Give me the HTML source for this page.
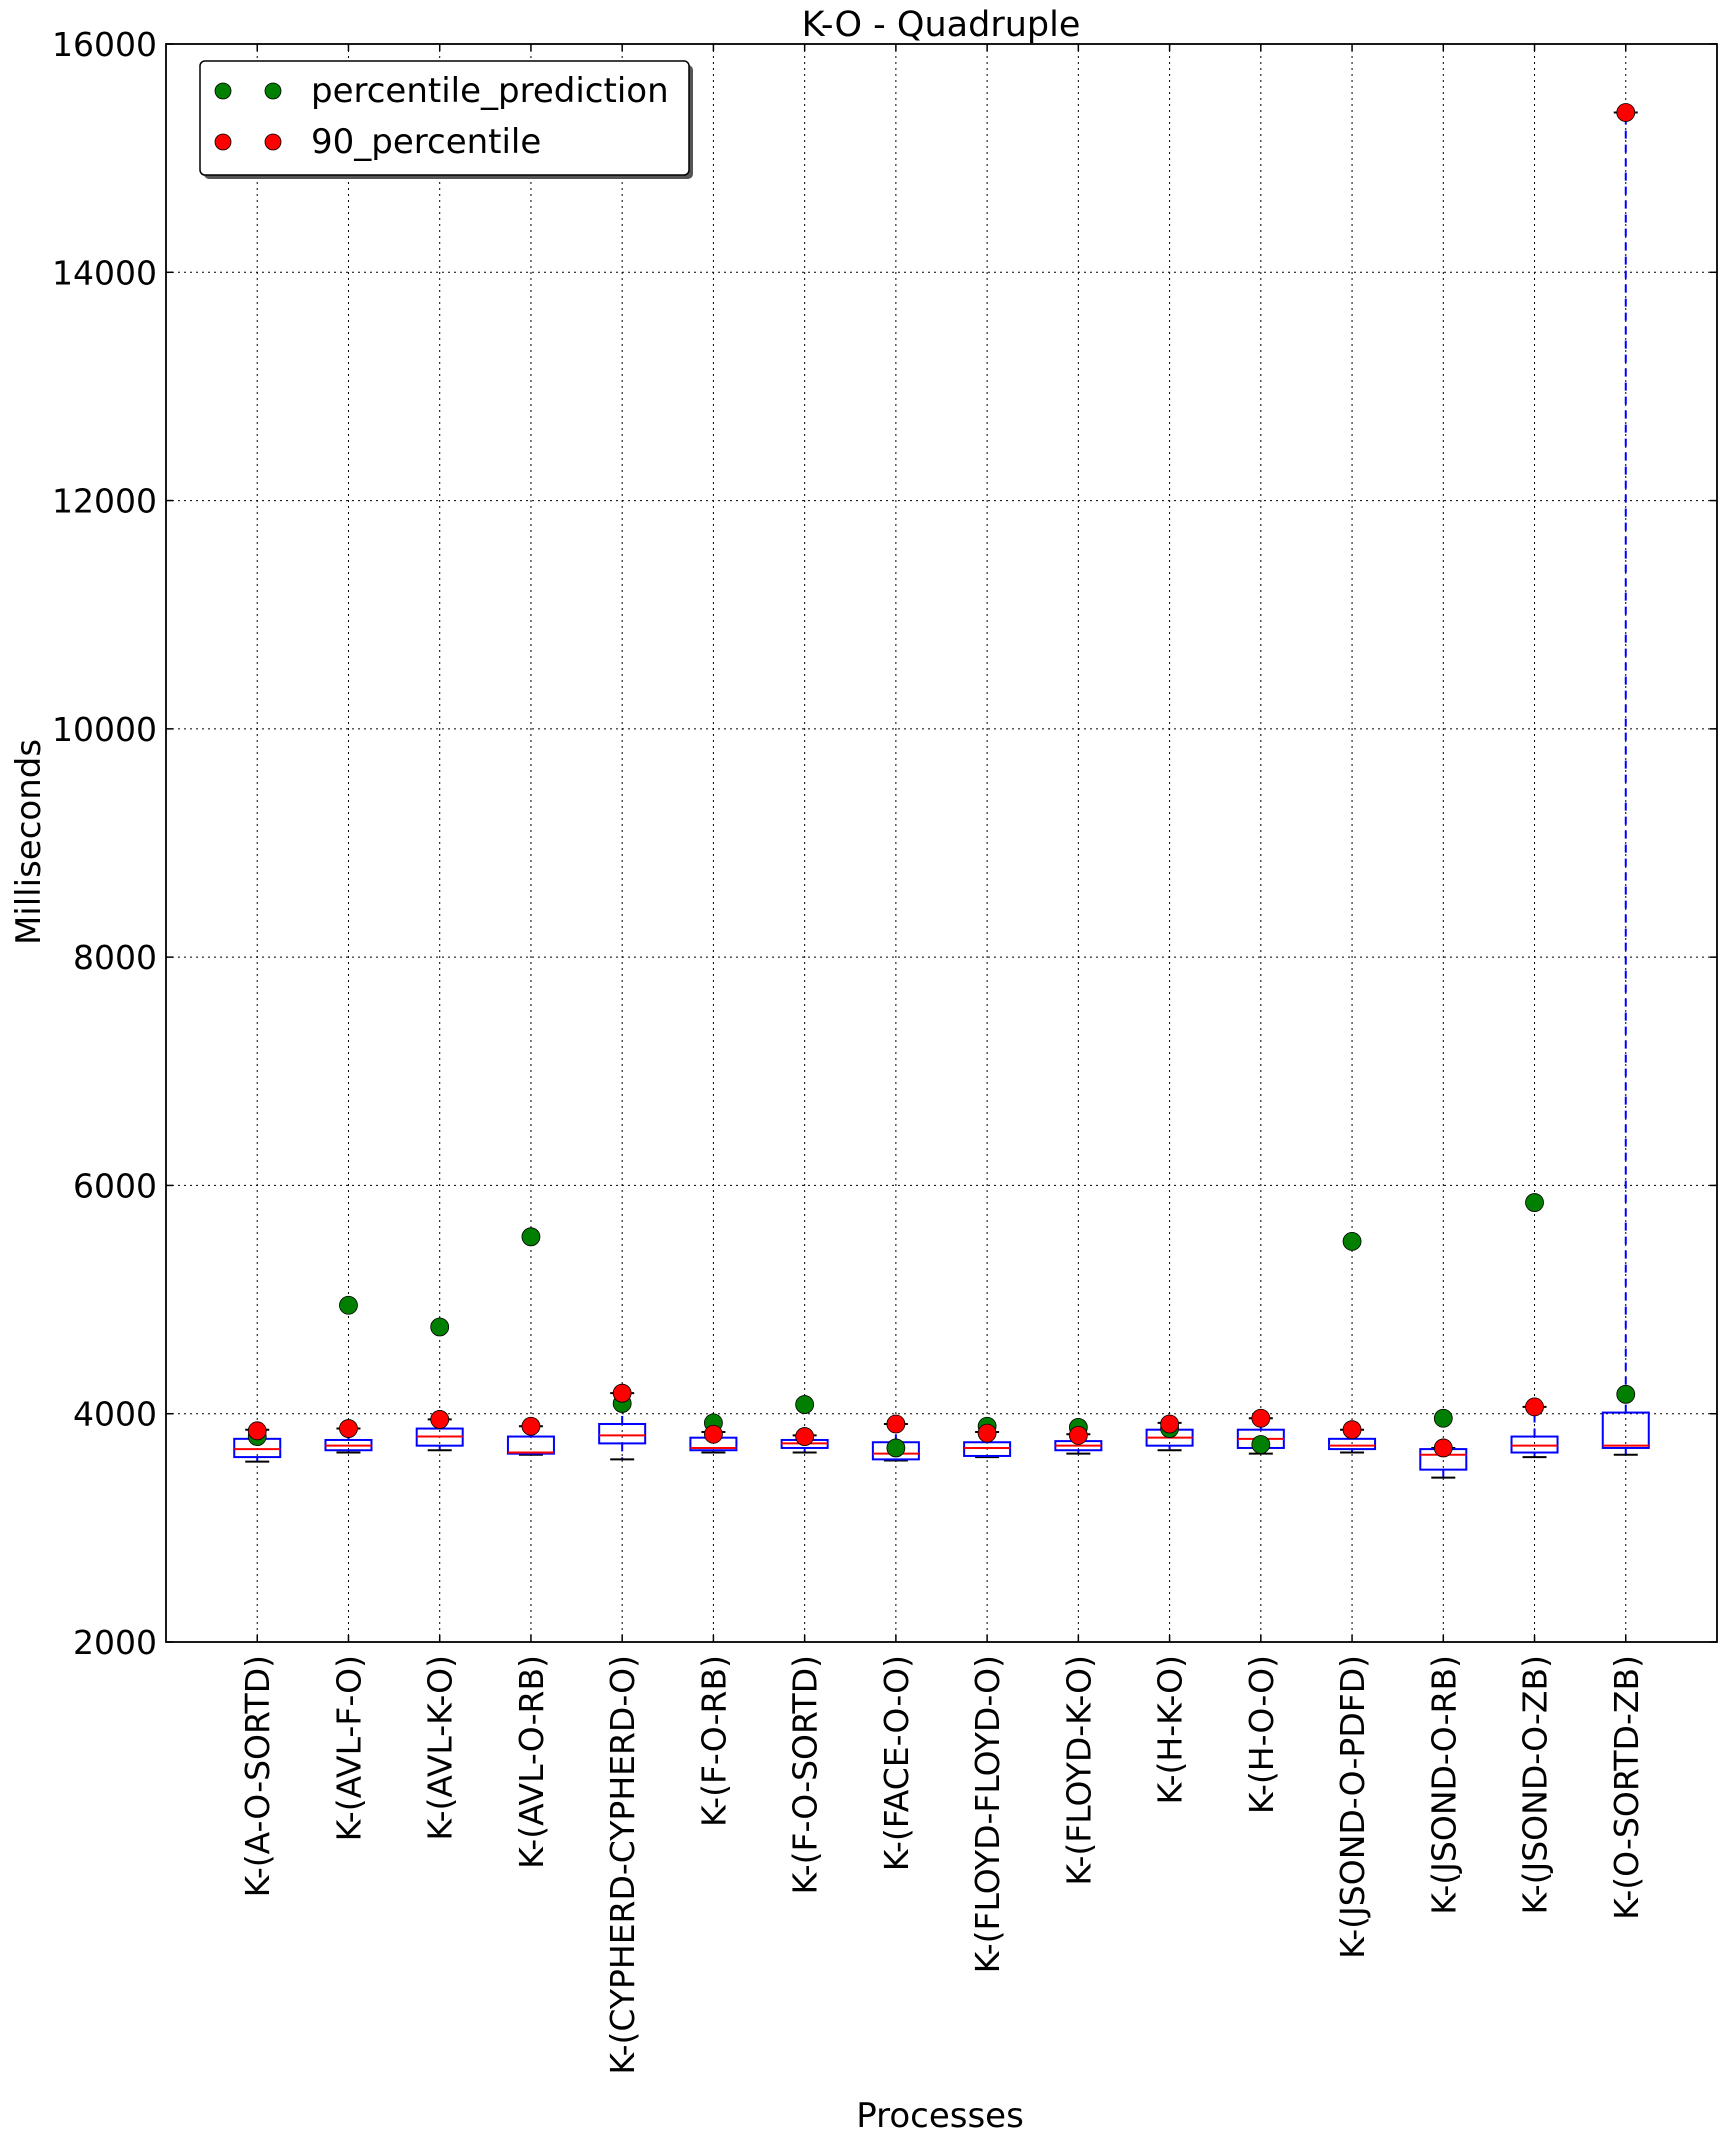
<!DOCTYPE html>
<html><head><meta charset="utf-8"><style>
html,body{margin:0;padding:0;background:#fff;}
svg{display:block;font-family:"DejaVu Sans","Liberation Sans",sans-serif;}
</style></head><body>
<svg id="chart" width="1726" height="2146" viewBox="0 0 1726 2146" xmlns="http://www.w3.org/2000/svg">
<rect x="0" y="0" width="1726" height="2146" fill="#fff"/>
<g id="grid"></g>
<g id="boxes"></g>
<g id="points"></g>
<rect x="166" y="44" width="1551" height="1598" fill="none" stroke="#000" stroke-width="1.8"/>
<g id="yticks"></g>
<g id="xticks"></g>
<text x="941" y="36" text-anchor="middle" font-size="35">K-O - Quadruple</text>
<text x="940" y="2127" text-anchor="middle" font-size="34">Processes</text>
<text transform="translate(40,842) rotate(-90)" text-anchor="middle" font-size="34">Milliseconds</text>
<g>
<rect x="204" y="65" width="489" height="114" rx="5" fill="#555"/>
<rect x="200" y="61" width="489" height="114" rx="5" fill="#fff" stroke="#000" stroke-width="1.5"/>
<g>
<circle cx="223" cy="91" r="8" fill="#007f00" stroke="#000" stroke-width="0.8"/>
<circle cx="273" cy="91" r="8" fill="#007f00" stroke="#000" stroke-width="0.8"/>
<text x="311" y="102" font-size="34">percentile_prediction</text>
</g>
<g>
<circle cx="223" cy="142" r="8" fill="#f00" stroke="#000" stroke-width="0.8"/>
<circle cx="273" cy="142" r="8" fill="#f00" stroke="#000" stroke-width="0.8"/>
<text x="311" y="153" font-size="34">90_percentile</text>
</g>
</g>
</svg>
<script>
const categories = ["K-(A-O-SORTD)","K-(AVL-F-O)","K-(AVL-K-O)","K-(AVL-O-RB)","K-(CYPHERD-CYPHERD-O)","K-(F-O-RB)","K-(F-O-SORTD)","K-(FACE-O-O)","K-(FLOYD-FLOYD-O)","K-(FLOYD-K-O)","K-(H-K-O)","K-(H-O-O)","K-(JSOND-O-PDFD)","K-(JSOND-O-RB)","K-(JSOND-O-ZB)","K-(O-SORTD-ZB)"];
const whiskerLow = [3580,3660,3680,3640,3600,3660,3660,3590,3620,3650,3680,3650,3660,3440,3620,3640];
const q1 = [3620,3680,3720,3650,3740,3680,3700,3600,3630,3680,3720,3700,3690,3510,3660,3700];
const median = [3690,3720,3800,3660,3810,3700,3740,3650,3700,3720,3790,3780,3720,3640,3720,3720];
const q3 = [3780,3770,3870,3800,3910,3790,3770,3750,3750,3760,3860,3860,3780,3690,3800,4010];
const whiskerHigh = [3860,3870,3950,3890,4180,3840,3810,3910,3840,3820,3920,3960,3860,3700,4060,15400];
const percentile90 = [3850,3870,3950,3890,4180,3820,3800,3910,3830,3810,3910,3960,3860,3700,4060,15400];
const prediction = [3800,4950,4760,5550,4090,3920,4080,3700,3890,3880,3870,3730,5510,3960,5850,4170];
const yTicks = [2000,4000,6000,8000,10000,12000,14000,16000];

const NS="http://www.w3.org/2000/svg";
const L=166,R=1717,T=44,B=1642,YMIN=2000,YMAX=16000;
const xs=i=>L+(R-L)*(i+1)/(categories.length+1);
const ys=v=>B-(v-YMIN)/(YMAX-YMIN)*(B-T);
function mk(tag,attrs,parent){const e=document.createElementNS(NS,tag);for(const k in attrs)e.setAttribute(k,attrs[k]);parent.appendChild(e);return e;}
const grid=document.getElementById('grid'),boxes=document.getElementById('boxes'),pts=document.getElementById('points'),yt=document.getElementById('yticks'),xt=document.getElementById('xticks');
yTicks.forEach(v=>{
  const y=ys(v);
  if(v>YMIN&&v<YMAX){const g=mk('line',{x1:L,x2:R,y1:y,y2:y,stroke:'#000','stroke-width':1,'stroke-dasharray':'2,4'},grid);
  
  }
  mk('line',{x1:L,x2:L+7,y1:y,y2:y,stroke:'#000','stroke-width':1.5},yt);
  mk('line',{x1:R,x2:R-7,y1:y,y2:y,stroke:'#000','stroke-width':1.5},yt);
  const t=mk('text',{x:157,y:y+12,'text-anchor':'end','font-size':33},yt);t.textContent=v;
  
  
});
categories.forEach((c,i)=>{
  const x=xs(i);
  const g=mk('line',{x1:x,x2:x,y1:T,y2:B,stroke:'#000','stroke-width':1,'stroke-dasharray':'2,4'},grid);
  
  
  mk('line',{x1:x,x2:x,y1:B,y2:B-7,stroke:'#000','stroke-width':1.5},xt);
  mk('line',{x1:x,x2:x,y1:T,y2:T+7,stroke:'#000','stroke-width':1.5},xt);
  const t=mk('text',{transform:`translate(${x+12},1655) rotate(-90)`,'text-anchor':'end','font-size':33},xt);t.textContent=c;
  
  
  const bg=mk('g',{},boxes);
  
  
  const bw=46,cw=24;
  mk('line',{x1:x,x2:x,y1:ys(q3[i]),y2:ys(whiskerHigh[i]),stroke:'#00f','stroke-width':2,'stroke-dasharray':'8,6'},bg);
  mk('line',{x1:x,x2:x,y1:ys(q1[i]),y2:ys(whiskerLow[i]),stroke:'#00f','stroke-width':2,'stroke-dasharray':'8,6'},bg);
  mk('line',{x1:x-cw/2,x2:x+cw/2,y1:ys(whiskerHigh[i]),y2:ys(whiskerHigh[i]),stroke:'#000','stroke-width':2},bg);
  mk('line',{x1:x-cw/2,x2:x+cw/2,y1:ys(whiskerLow[i]),y2:ys(whiskerLow[i]),stroke:'#000','stroke-width':2},bg);
  mk('rect',{x:x-bw/2,y:ys(q3[i]),width:bw,height:ys(q1[i])-ys(q3[i]),fill:'none',stroke:'#00f','stroke-width':2},bg);
  mk('line',{x1:x-bw/2,x2:x+bw/2,y1:ys(median[i]),y2:ys(median[i]),stroke:'#f00','stroke-width':2},bg);
  const gp=mk('circle',{cx:x,cy:ys(prediction[i]),r:9,fill:'#007f00',stroke:'#000','stroke-width':0.8},pts);
  
  
  const rp=mk('circle',{cx:x,cy:ys(percentile90[i]),r:9,fill:'#f00',stroke:'#000','stroke-width':0.8},pts);
  
  
});
</script>
</body></html>
